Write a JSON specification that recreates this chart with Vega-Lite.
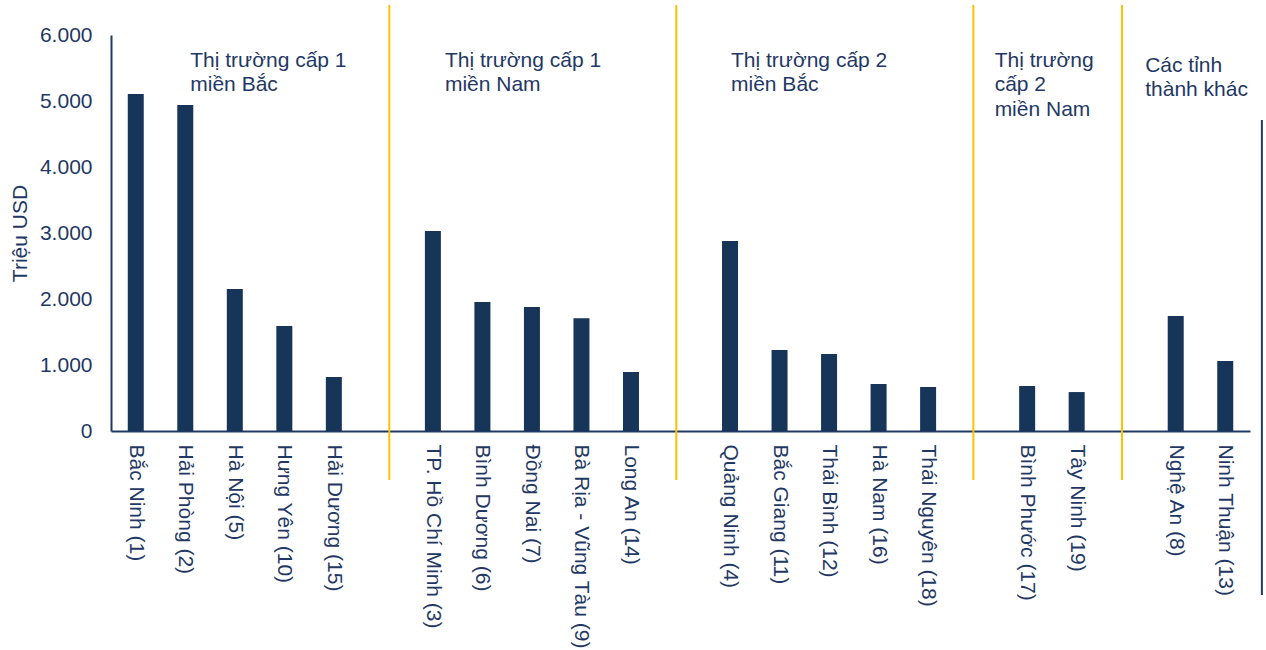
{
  "$schema": "https://vega.github.io/schema/vega-lite/v6.json",
  "width": 1139,
  "height": 396,
  "autosize": {"type": "none"},
  "padding": {"left": 111, "top": 35, "right": 16, "bottom": 219},
  "background": "white",
  "config": {"view": {"stroke": null}, "font": "Liberation Sans"},
  "datasets": {
    "bars": [
      {"province": "Bắc Ninh (1)", "value": 5106},
      {"province": "Hải Phòng (2)", "value": 4939},
      {"province": "Hà Nội (5)", "value": 2152},
      {"province": "Hưng Yên (10)", "value": 1591},
      {"province": "Hải Dương (15)", "value": 818},
      {"province": "TP. Hồ Chí Minh (3)", "value": 3030},
      {"province": "Bình Dương (6)", "value": 1955},
      {"province": "Đồng Nai (7)", "value": 1880},
      {"province": "Bà Rịa - Vũng Tàu (9)", "value": 1710},
      {"province": "Long An (14)", "value": 894},
      {"province": "Quảng Ninh (4)", "value": 2880},
      {"province": "Bắc Giang (11)", "value": 1227},
      {"province": "Thái Bình (12)", "value": 1167},
      {"province": "Hà Nam (16)", "value": 712},
      {"province": "Thái Nguyên (18)", "value": 667},
      {"province": "Bình Phước (17)", "value": 682},
      {"province": "Tây Ninh (19)", "value": 590},
      {"province": "Nghệ An (8)", "value": 1742},
      {"province": "Ninh Thuận (13)", "value": 1060}
    ],
    "gaps": [
      {"slot": "gap1"},
      {"slot": "gap2"},
      {"slot": "gap3"},
      {"slot": "gap4"}
    ],
    "groups": [
      {"label": "Thị trường cấp 1\nmiền Bắc", "anchor": "Hải Phòng (2)"},
      {"label": "Thị trường cấp 1\nmiền Nam", "anchor": "TP. Hồ Chí Minh (3)"},
      {"label": "Thị trường cấp 2\nmiền Bắc", "anchor": "Quảng Ninh (4)"},
      {"label": "Thị trường\ncấp 2\nmiền Nam", "anchor": "gap3"},
      {"label": "Các tỉnh\nthành khác", "anchor": "gap4"}
    ]
  },
  "layer": [
    {
      "data": {"name": "gaps"},
      "transform": [{"filter": "datum.slot === 'gap1'"}],
      "mark": {"type": "rule", "color": "#FFC000", "strokeWidth": 2},
      "encoding": {
        "x": {"field": "slot", "type": "nominal", "bandPosition": 0.62},
        "y": {"datum": 6455},
        "y2": {"datum": -742}
      }
    },
    {
      "data": {"name": "gaps"},
      "transform": [{"filter": "datum.slot !== 'gap1'"}],
      "mark": {"type": "rule", "color": "#FFC000", "strokeWidth": 2},
      "encoding": {
        "x": {"field": "slot", "type": "nominal", "bandPosition": 0.415},
        "y": {"datum": 6455},
        "y2": {"datum": -742}
      }
    },
    {
      "data": {"name": "bars"},
      "mark": {"type": "bar", "size": 16, "color": "#173459"},
      "encoding": {
        "x": {
          "field": "province",
          "type": "nominal",
          "sort": null,
          "scale": {
            "domain": ["Bắc Ninh (1)", "Hải Phòng (2)", "Hà Nội (5)", "Hưng Yên (10)", "Hải Dương (15)", "gap1",
                       "TP. Hồ Chí Minh (3)", "Bình Dương (6)", "Đồng Nai (7)", "Bà Rịa - Vũng Tàu (9)", "Long An (14)", "gap2",
                       "Quảng Ninh (4)", "Bắc Giang (11)", "Thái Bình (12)", "Hà Nam (16)", "Thái Nguyên (18)", "gap3",
                       "Bình Phước (17)", "Tây Ninh (19)", "gap4",
                       "Nghệ An (8)", "Ninh Thuận (13)"],
            "paddingInner": 0,
            "paddingOuter": 0
          },
          "axis": {
            "title": null,
            "domainColor": "#1F3864",
            "domainWidth": 2,
            "ticks": false,
            "tickSize": 0,
            "labelAngle": 90,
            "labelAlign": "left",
            "labelBaseline": "middle",
            "labelPadding": 13,
            "labelFontSize": 21,
            "labelFont": "Liberation Sans",
            "labelColor": "#1F3864",
            "labelOverlap": false,
            "labelLimit": 400,
            "labelExpr": "indexof(datum.value, 'gap') === 0 ? '' : datum.value"
          }
        },
        "y": {
          "field": "value",
          "type": "quantitative",
          "scale": {"domain": [0, 6000], "nice": false},
          "axis": {
            "title": "Triệu USD",
            "titleFont": "Liberation Sans",
            "titleFontSize": 21,
            "titleFontWeight": "normal",
            "titleColor": "#1F3864",
            "titlePadding": 9,
            "labelFont": "Liberation Sans",
            "labelFontSize": 21,
            "labelColor": "#1F3864",
            "labelPadding": 19,
            "ticks": false,
            "tickSize": 0,
            "grid": false,
            "domainColor": "#1F3864",
            "domainWidth": 2,
            "values": [0, 1000, 2000, 3000, 4000, 5000, 6000],
            "labelExpr": "replace(format(datum.value, ',d'), ',', '.')"
          }
        }
      }
    },
    {
      "data": {"name": "bars"},
      "transform": [{"filter": "datum.province === 'Ninh Thuận (13)'"}],
      "mark": {"type": "rule", "color": "#1F3864", "strokeWidth": 2},
      "encoding": {
        "x": {"field": "province", "type": "nominal", "bandPosition": 1.24},
        "y": {"datum": 4712},
        "y2": {"datum": -2485}
      }
    },
    {
      "data": {"name": "groups"},
      "transform": [{"filter": "datum.anchor === 'Hải Phòng (2)'"}],
      "mark": {"type": "text", "align": "left", "baseline": "top", "dx": 5, "fontSize": 21, "lineHeight": 24, "lineBreak": "\n", "color": "#1F3864", "font": "Liberation Sans"},
      "encoding": {
        "x": {"field": "anchor", "type": "nominal"},
        "y": {"datum": 5773},
        "text": {"field": "label"}
      }
    },
    {
      "data": {"name": "groups"},
      "transform": [{"filter": "datum.anchor === 'TP. Hồ Chí Minh (3)'"}],
      "mark": {"type": "text", "align": "left", "baseline": "top", "dx": 12, "fontSize": 21, "lineHeight": 24, "lineBreak": "\n", "color": "#1F3864", "font": "Liberation Sans"},
      "encoding": {
        "x": {"field": "anchor", "type": "nominal"},
        "y": {"datum": 5773},
        "text": {"field": "label"}
      }
    },
    {
      "data": {"name": "groups"},
      "transform": [{"filter": "datum.anchor === 'Quảng Ninh (4)'"}],
      "mark": {"type": "text", "align": "left", "baseline": "top", "dx": 1, "fontSize": 21, "lineHeight": 24, "lineBreak": "\n", "color": "#1F3864", "font": "Liberation Sans"},
      "encoding": {
        "x": {"field": "anchor", "type": "nominal"},
        "y": {"datum": 5773},
        "text": {"field": "label"}
      }
    },
    {
      "data": {"name": "groups"},
      "transform": [{"filter": "datum.anchor === 'gap3'"}],
      "mark": {"type": "text", "align": "left", "baseline": "top", "dx": 17, "fontSize": 21, "lineHeight": 24.5, "lineBreak": "\n", "color": "#1F3864", "font": "Liberation Sans"},
      "encoding": {
        "x": {"field": "anchor", "type": "nominal"},
        "y": {"datum": 5773},
        "text": {"field": "label"}
      }
    },
    {
      "data": {"name": "groups"},
      "transform": [{"filter": "datum.anchor === 'gap4'"}],
      "mark": {"type": "text", "align": "left", "baseline": "top", "dx": 19, "fontSize": 21, "lineHeight": 24, "lineBreak": "\n", "color": "#1F3864", "font": "Liberation Sans"},
      "encoding": {
        "x": {"field": "anchor", "type": "nominal"},
        "y": {"datum": 5697},
        "text": {"field": "label"}
      }
    }
  ]
}
